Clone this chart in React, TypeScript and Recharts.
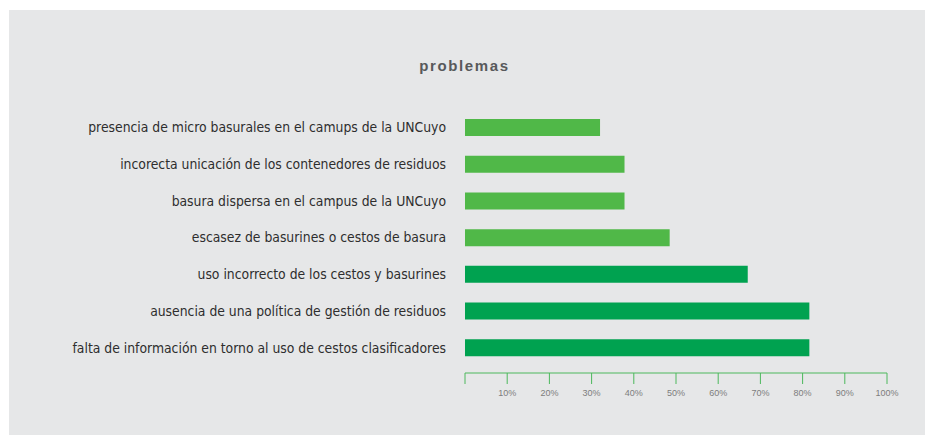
import React from 'react';
import { BarChart, Bar, XAxis, YAxis, Cell } from 'recharts';

const categories = [
  'presencia de micro basurales en el camups de la UNCuyo',
  'incorecta unicación de los contenedores de residuos',
  'basura dispersa en el campus de la UNCuyo',
  'escasez de basurines o cestos de basura',
  'uso incorrecto de los cestos y basurines',
  'ausencia de una política de gestión de residuos',
  'falta de información en torno al uso de cestos clasificadores',
];
const values = [32, 37.8, 37.8, 48.5, 67, 81.6, 81.6];
const tickValues = [0, 10, 20, 30, 40, 50, 60, 70, 80, 90, 100];
const barColors = ['#50b848', '#50b848', '#50b848', '#50b848', '#00a250', '#00a250', '#00a250'];

const data = categories.map((name, i) => ({ name, value: values[i] }));

export default function App() {
  return (
    <div style={{ position: 'absolute', left: 0, top: 0, width: 925, height: 435, background: '#ffffff' }}>
      <div style={{ position: 'absolute', left: 9, top: 10, width: 916, height: 425, background: '#e6e7e8' }} />
      <div
        style={{
          position: 'absolute',
          left: 0,
          width: 925,
          top: 56,
          textAlign: 'center',
          paddingLeft: 2,
          fontFamily: 'Liberation Sans, Arial, sans-serif',
          fontWeight: 'bold',
          fontSize: 15,
          letterSpacing: 1.6,
          color: '#58595b',
          lineHeight: '20px',
        }}
      >
        problemas
      </div>
      <div style={{ position: 'absolute', left: 0, top: 0 }}>
        <BarChart
          width={925}
          height={435}
          data={data}
          layout="vertical"
          margin={{ top: 109, right: 38, bottom: 32, left: 10 }}
        >
          <XAxis
            type="number"
            domain={[0, 100]}
            ticks={tickValues}
            interval={0}
            tickFormatter={(v: number) => (v === 0 ? '' : `${v}%`)}
            stroke="#4cb85c"
            tickSize={11}
            tickMargin={6}
            height={30}
            tick={{ fill: '#7d7d7d', fontSize: 9, fontFamily: 'Liberation Sans, Arial, sans-serif' }}
          />
          <YAxis
            type="category"
            dataKey="name"
            width={455}
            axisLine={false}
            tickLine={false}
            tickSize={0}
            tickMargin={19}
            interval={0}
            padding={{ top: 0, bottom: 7 }}
            tick={{ fill: '#2e2e2e', fontSize: 13.8, fontFamily: 'Liberation Sans Narrow, DejaVu Sans Condensed, sans-serif' }}
          />
          <Bar dataKey="value" barSize={17} isAnimationActive={false}>
            {data.map((d, i) => (
              <Cell key={d.name} fill={barColors[i]} />
            ))}
          </Bar>
        </BarChart>
      </div>
    </div>
  );
}
